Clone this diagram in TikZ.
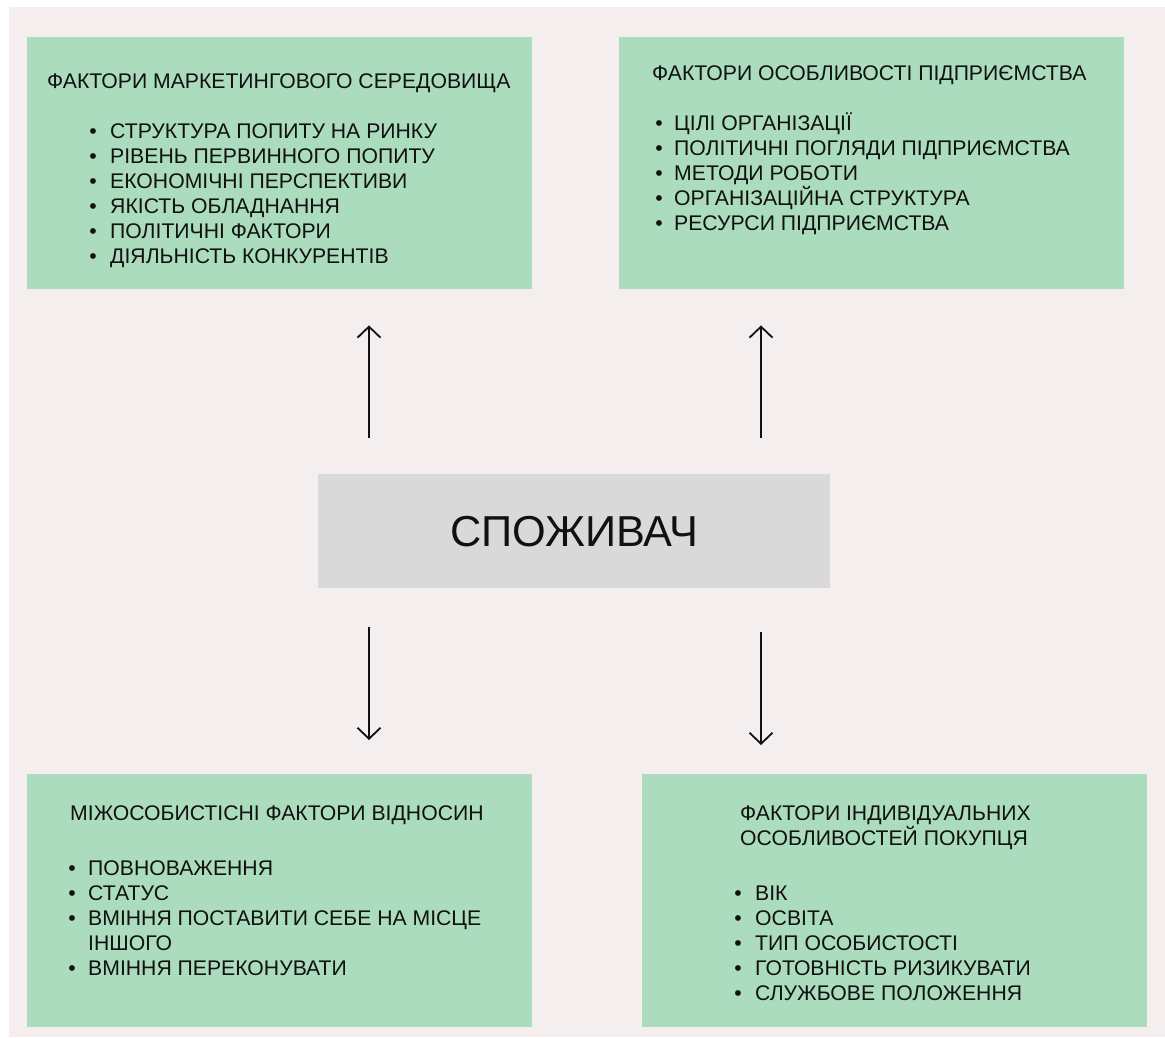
\documentclass[tikz,border=0pt]{standalone}
\usepackage{fontspec}
\setmainfont{Liberation Sans}
\usetikzlibrary{arrows.meta}
\definecolor{bgpink}{HTML}{F4EEEE}
\definecolor{boxgreen}{HTML}{ABDCBD}
\definecolor{boxgray}{HTML}{D9D9D9}
\definecolor{ink}{HTML}{111111}
\tikzset{
  factorbox/.style={fill=boxgreen, draw=none, inner sep=0pt, anchor=north west},
  centerbox/.style={fill=boxgray, draw=none, inner sep=0pt, anchor=north west},
  lbl/.style={anchor=base west, inner sep=0pt, text=ink, font=\fontsize{21.2}{25}\selectfont},
  bul/.style={anchor=base, inner sep=0pt, text=ink, font=\fontsize{21.2}{25}\selectfont},
  arr/.style={draw=ink, line width=1.8pt, -{Straight Barb[length=11pt,width=23pt,line width=1.8pt]}},
}
\begin{document}
\begin{tikzpicture}[x=1pt,y=-1pt]
\useasboundingbox (0,0) rectangle (1165,1037);
\fill[white] (0,0) rectangle (1165,1037);
\fill[bgpink] (9,7) rectangle (1165,1037);
% boxes
\node[factorbox, minimum width=505pt, minimum height=252pt] (tl) at (27,37) {};
\node[factorbox, minimum width=505pt, minimum height=252pt] (tr) at (619,37) {};
\node[centerbox, minimum width=512pt, minimum height=114pt] (cons) at (318,474) {};
\node[factorbox, minimum width=505pt, minimum height=253pt] (bl) at (27,774) {};
\node[factorbox, minimum width=505pt, minimum height=253pt] (br) at (642,774) {};
\node[inner sep=0pt, text=ink, font=\fontsize{43.3}{50}\selectfont] (constext) at (cons.center) {СПОЖИВАЧ};
% TL text
\node[lbl] (tlt) at (47,88) {ФАКТОРИ МАРКЕТИНГОВОГО СЕРЕДОВИЩА};
\foreach \t [count=\i] in {СТРУКТУРА ПОПИТУ НА РИНКУ, РІВЕНЬ ПЕРВИННОГО ПОПИТУ, ЕКОНОМІЧНІ ПЕРСПЕКТИВИ, ЯКІСТЬ ОБЛАДНАННЯ, ПОЛІТИЧНІ ФАКТОРИ, ДІЯЛЬНІСТЬ КОНКУРЕНТІВ}{
  \node[bul] (tlb\i) at (93,{138+25*(\i-1)}) {•};
  \node[lbl] (tli\i) at (110,{138+25*(\i-1)}) {\t};
}
% TR text
\node[lbl] (trt) at (652,80) {ФАКТОРИ ОСОБЛИВОСТІ ПІДПРИЄМСТВА};
\foreach \t [count=\i] in {ЦІЛІ ОРГАНІЗАЦІЇ, ПОЛІТИЧНІ ПОГЛЯДИ ПІДПРИЄМСТВА, МЕТОДИ РОБОТИ, ОРГАНІЗАЦІЙНА СТРУКТУРА, РЕСУРСИ ПІДПРИЄМСТВА}{
  \node[bul] (trb\i) at (659,{130+25*(\i-1)}) {•};
  \node[lbl] (tri\i) at (674,{130+25*(\i-1)}) {\t};
}
% BL text
\node[lbl] (blt) at (70,820) {МІЖОСОБИСТІСНІ ФАКТОРИ ВІДНОСИН};
\node[bul] (blb1) at (72,875) {•};
\node[lbl] (bli1) at (88,875) {ПОВНОВАЖЕННЯ};
\node[bul] (blb2) at (72,900) {•};
\node[lbl] (bli2) at (88,900) {СТАТУС};
\node[bul] (blb3) at (72,925) {•};
\node[lbl] (bli3) at (88,925) {ВМІННЯ ПОСТАВИТИ СЕБЕ НА МІСЦЕ};
\node[lbl] (bli3b) at (88,950) {ІНШОГО};
\node[bul] (blb4) at (72,975) {•};
\node[lbl] (bli4) at (88,975) {ВМІННЯ ПЕРЕКОНУВАТИ};
% BR text
\node[lbl] (brt1) at (740,820) {ФАКТОРИ ІНДИВІДУАЛЬНИХ};
\node[lbl] (brt2) at (740,845) {ОСОБЛИВОСТЕЙ ПОКУПЦЯ};
\foreach \t [count=\i] in {ВІК, ОСВІТА, ТИП ОСОБИСТОСТІ, ГОТОВНІСТЬ РИЗИКУВАТИ, СЛУЖБОВЕ ПОЛОЖЕННЯ}{
  \node[bul] (brb\i) at (738,{900+25*(\i-1)}) {•};
  \node[lbl] (bri\i) at (755,{900+25*(\i-1)}) {\t};
}
% arrows
\coordinate (xa) at (369,0);
\coordinate (xb) at (761,0);
\draw[arr, shorten <=36pt, shorten >=36pt] (cons.north -| xa) -- (tl.south -| xa);
\draw[arr, shorten <=36pt, shorten >=36pt] (cons.north -| xb) -- (tr.south -| xb);
\draw[arr, shorten <=39pt, shorten >=34pt] (cons.south -| xa) -- (bl.north -| xa);
\draw[arr, shorten <=44pt, shorten >=29pt] (cons.south -| xb) -- (br.north -| xb);
\end{tikzpicture}
\end{document}
